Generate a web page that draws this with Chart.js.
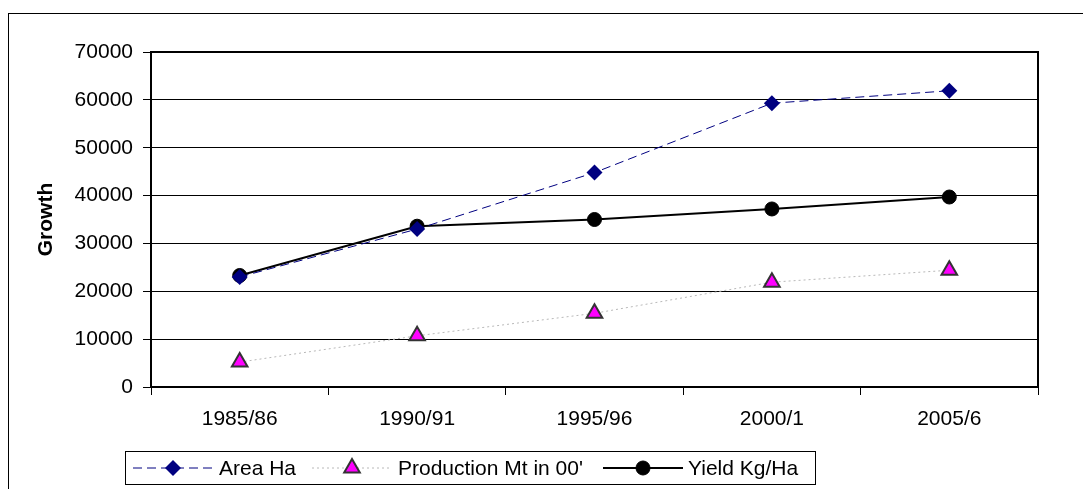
<!DOCTYPE html>
<html>
<head>
<meta charset="utf-8">
<script src="https://cdn.jsdelivr.net/npm/chart.js@4/dist/chart.umd.min.js"></script>
<style>
  body { margin: 0; background: #fff; }
  .wrap { position: relative; width: 1083px; height: 489px; overflow: hidden; }
  .frame { position: absolute; left: 8px; top: 13px; width: 1200px; height: 600px; border: 1px solid #000; }
  canvas { position: absolute; left: 0; top: 0; }
</style>
</head>
<body>
<div class="wrap">
  <div class="frame"></div>
  <canvas id="myChart" width="1083" height="489"></canvas>
</div>
<script>
// values
const seasons = ['1985/86', '1990/91', '1995/96', '2000/1', '2005/6'];
const areaHa = [23000, 33000, 44800, 59300, 61900];
const productionMt = [5200, 10700, 15400, 21900, 24400];
const yieldKgHa = [23300, 33600, 35000, 37200, 39700];
const yTicks = [0, 10000, 20000, 30000, 40000, 50000, 60000, 70000];

const font = '"Liberation Sans", Arial, sans-serif';
const fontSize = 21;

// box round the plot area + excel style legend
const frameAndLegend = {
    id: 'frameAndLegend',
    afterDraw(chart) {
        const ctx = chart.ctx;
        const a = chart.chartArea;
        ctx.save();
        ctx.strokeStyle = '#000';
        ctx.lineWidth = 2;
        ctx.strokeRect(a.left, a.top, a.right - a.left, a.bottom - a.top);

        // legend box
        ctx.lineWidth = 1;
        ctx.strokeRect(125.5, 451.5, 690, 33);

        const slots = [
            { x0: 133, x1: 213, tx: 219 },
            { x0: 312, x1: 392, tx: 398 },
            { x0: 603, x1: 683, tx: 688 }
        ];
        const y = 468;
        chart.data.datasets.forEach((ds, i) => {
            const s = slots[i];
            ctx.save();
            ctx.strokeStyle = ds.borderColor;
            ctx.lineWidth = ds.borderWidth;
            ctx.setLineDash(ds.borderDash || []);
            ctx.beginPath();
            ctx.moveTo(s.x0, y);
            ctx.lineTo(s.x1, y);
            ctx.stroke();
            ctx.restore();

            const cx = (s.x0 + s.x1) / 2;
            const r = ds.pointRadius;
            ctx.save();
            ctx.fillStyle = ds.pointBackgroundColor;
            ctx.strokeStyle = ds.pointBorderColor;
            ctx.lineWidth = ds.pointBorderWidth;
            ctx.beginPath();
            if (ds.pointStyle === 'rectRot') {
                ctx.moveTo(cx - r, y);
                ctx.lineTo(cx, y - r);
                ctx.lineTo(cx + r, y);
                ctx.lineTo(cx, y + r);
            } else if (ds.pointStyle === 'triangle') {
                ctx.moveTo(cx, y - r);
                ctx.lineTo(cx + r * 0.866, y + r / 2);
                ctx.lineTo(cx - r * 0.866, y + r / 2);
            } else {
                ctx.arc(cx, y, r, 0, Math.PI * 2);
            }
            ctx.closePath();
            ctx.fill();
            if (ds.pointBorderWidth) ctx.stroke();
            ctx.restore();

            ctx.fillStyle = '#000';
            ctx.font = fontSize + 'px ' + font;
            ctx.textBaseline = 'middle';
            ctx.textAlign = 'left';
            ctx.fillText(ds.label, s.tx, y + 1);
        });
        ctx.restore();
    }
};

const ctx = document.getElementById('myChart').getContext('2d');
const chart = new Chart(ctx, {
    type: 'line',
    data: {
        labels: seasons,
        datasets: [
            {
                label: 'Area Ha',
                data: areaHa,
                borderColor: '#000080',
                borderWidth: 1,
                borderDash: [9, 5],
                pointStyle: 'rectRot',
                pointRadius: 8,
                pointBackgroundColor: '#000080',
                pointBorderColor: '#000080',
                pointBorderWidth: 0,
                fill: false
            },
            {
                label: "Production Mt in 00'",
                data: productionMt,
                borderColor: '#b8b8b8',
                borderWidth: 1,
                borderDash: [2, 3],
                pointStyle: 'triangle',
                pointRadius: 9,
                pointBackgroundColor: '#ff00ff',
                pointBorderColor: '#333333',
                pointBorderWidth: 2,
                fill: false
            },
            {
                label: 'Yield Kg/Ha',
                data: yieldKgHa,
                borderColor: '#000000',
                borderWidth: 2,
                pointStyle: 'circle',
                pointRadius: 7,
                pointBackgroundColor: '#000000',
                pointBorderColor: '#000000',
                pointBorderWidth: 1,
                fill: false
            }
        ]
    },
    options: {
        responsive: false,
        animation: false,
        layout: { padding: { left: 0, top: 52, right: 45, bottom: 52 } },
        plugins: {
            legend: { display: false },
            tooltip: { enabled: false }
        },
        scales: {
            x: {
                offset: true,
                grid: {
                    offset: true,
                    drawOnChartArea: false,
                    drawTicks: true,
                    tickLength: 8,
                    color: '#000',
                    lineWidth: 1
                },
                border: { display: true, color: '#000', width: 2 },
                ticks: { color: '#000', font: { family: font, size: fontSize }, padding: 12, maxRotation: 0 },
                afterFit: s => { s.height = 50; }
            },
            y: {
                min: 0,
                max: 70000,
                afterBuildTicks: s => { s.ticks = yTicks.map(v => ({ value: v })); },
                grid: { color: '#000', lineWidth: 1, drawTicks: true, tickLength: 8 },
                border: { display: true, color: '#000', width: 2 },
                ticks: {
                    color: '#000',
                    font: { family: font, size: fontSize },
                    padding: 10,
                    callback: v => String(v)
                },
                title: {
                    display: true,
                    text: 'Growth',
                    color: '#000',
                    font: { family: font, size: fontSize, weight: 'bold' },
                    padding: { top: 34, bottom: 0 }
                },
                afterFit: s => { s.width = 151; }
            }
        }
    },
    plugins: [frameAndLegend]
});
</script>
</body>
</html>
